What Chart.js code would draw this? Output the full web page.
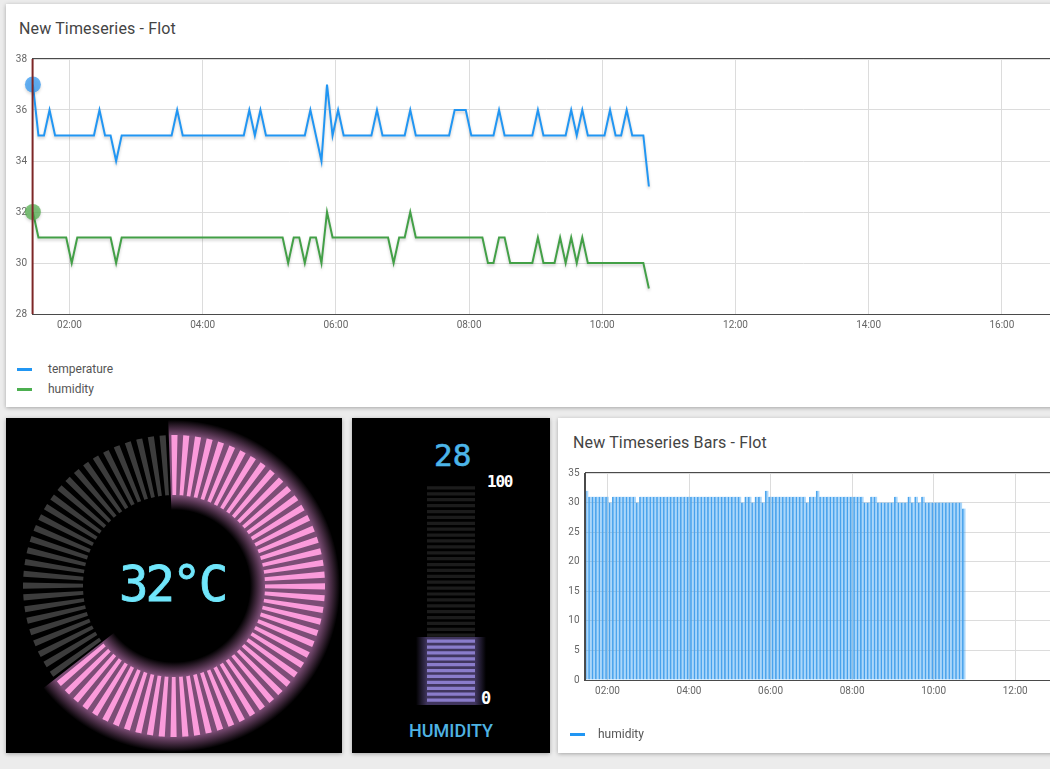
<!DOCTYPE html>
<html>
<head>
<meta charset="utf-8">
<script src="https://cdn.jsdelivr.net/npm/chart.js@4"></script>
<style>
html,body{margin:0;padding:0;width:1050px;height:769px;overflow:hidden;background:#ececec;font-family:Roboto,sans-serif}
.card{position:absolute;box-shadow:0 1px 4px rgba(0,0,0,.3)}
.white{background:#fff}
.black{background:#000}
canvas{position:absolute}
.t{position:absolute;white-space:nowrap;line-height:1}
.title{font-size:16px;color:#444;letter-spacing:.15px}
.leg{font-size:12px;color:#555}
.sw{position:absolute;width:15px;height:3px}
.lcd{font-family:"DejaVu Sans Mono",monospace;font-weight:400;transform-origin:0 0}
#glowbar{position:absolute;left:416px;top:637px;width:70px;height:68px;background:linear-gradient(90deg,rgba(70,58,110,0),#41365f 16%,#41365f 84%,rgba(70,58,110,0))}
</style>
</head>
<body>
<div class="card white" style="left:6px;top:4px;width:1060px;height:403px"></div>
<div class="card black" style="left:6px;top:418px;width:336px;height:335px"></div>
<div class="card black" style="left:352px;top:418px;width:198px;height:335px"></div>
<div class="card white" style="left:558px;top:418px;width:510px;height:335px"></div>

<div class="t title" style="left:19px;top:21px">New Timeseries - Flot</div>
<div class="t title" style="left:573px;top:435px">New Timeseries Bars - Flot</div>

<canvas id="lineChart" width="1070" height="300" style="left:0;top:40px"></canvas>
<div class="sw" style="left:17px;top:368px;background:#2196f3"></div>
<div class="t leg" style="left:48px;top:363px">temperature</div>
<div class="sw" style="left:17px;top:388px;background:#4caf50"></div>
<div class="t leg" style="left:48px;top:383px">humidity</div>

<canvas id="gaugeGlow" width="340" height="340" style="left:4px;top:416px"></canvas>
<canvas id="gaugeTicks" width="340" height="340" style="left:4px;top:416px"></canvas>
<div class="t lcd" style="left:119px;top:559px;font-size:50px;color:#70e6fb;letter-spacing:-3px;transform:scaleX(.98);-webkit-text-stroke:.8px #70e6fb">32°C</div>

<div id="glowbar"></div>
<canvas id="levelChart" width="48" height="218" style="left:427px;top:485px"></canvas>
<div class="t lcd" style="left:434px;top:440px;font-size:31px;color:#4cb5e8;-webkit-text-stroke:.6px #4cb5e8">28</div>
<div class="t lcd" style="left:487px;top:474px;font-size:16px;font-weight:700;color:#fff;letter-spacing:-1.2px">100</div>
<div class="t lcd" style="left:481px;top:690px;font-size:17px;font-weight:700;color:#fff">0</div>
<div class="t" style="left:409px;top:722px;font-size:18px;font-weight:500;color:#4fb3e3">HUMIDITY</div>

<canvas id="barChart" width="510" height="290" style="left:558px;top:462px"></canvas>
<div class="sw" style="left:570px;top:733px;background:#2196f3"></div>
<div class="t leg" style="left:598px;top:728px">humidity</div>

<script>
const minutes = [87,92,97,102,107,112,117,122,127,132,137,142,147,152,157,162,167,172,177,182,187,192,197,202,207,212,217,222,227,232,237,242,247,252,257,262,267,272,277,282,287,292,297,302,307,312,317,322,327,332,337,342,347,352,357,362,367,372,377,382,387,392,397,402,407,412,417,422,427,432,437,442,447,452,457,462,467,472,477,482,487,492,497,502,507,512,517,522,527,532,537,542,547,552,557,562,567,572,577,582,587,592,597,602,607,612,617,622,627,632,637,642];
const temperature = [37,35,35,36,35,35,35,35,35,35,35,35,36,35,35,34,35,35,35,35,35,35,35,35,35,35,36,35,35,35,35,35,35,35,35,35,35,35,35,36,35,36,35,35,35,35,35,35,35,35,36,35,34,37,35,36,35,35,35,35,35,35,36,35,35,35,35,35,36,35,35,35,35,35,35,35,36,36,36,35,35,35,35,35,36,35,35,35,35,35,35,36,35,35,35,35,35,36,35,36,35,35,35,35,36,35,35,36,35,35,35,33];
const humidity = [32,31,31,31,31,31,31,30,31,31,31,31,31,31,31,30,31,31,31,31,31,31,31,31,31,31,31,31,31,31,31,31,31,31,31,31,31,31,31,31,31,31,31,31,31,31,30,31,31,30,31,31,30,32,31,31,31,31,31,31,31,31,31,31,31,30,31,31,32,31,31,31,31,31,31,31,31,31,31,31,31,31,30,30,31,31,30,30,30,30,30,31,30,30,30,31,30,31,30,31,30,30,30,30,30,30,30,30,30,30,30,29];
const xTicks = [120,240,360,480,600,720,840,960];
const lineYTicks = [28,30,32,34,36,38];
const barYTicks = [0,5,10,15,20,25,30,35];
const gaugeTemperature = 32;
const gaugeLitFraction = 0.65;
const gaugeTickCount = 80;
const levelRowCount = 37;
const levelLitRows = 11;

const GRID = '#dcdcdc', FRAME = '#4a4a4a', TICK = '#666';
const tickFont = {family:'Roboto', size:10};
const fmt = v => { const h = Math.floor(v/60), m = v%60; return String(h).padStart(2,'0')+':'+String(m).padStart(2,'0'); };
const frame = {
  id:'frame',
  afterDraw(c){ const a=c.chartArea, x=c.ctx; x.save(); x.strokeStyle=FRAME; x.lineWidth=1;
    x.strokeRect(Math.round(a.left)+.5,Math.round(a.top)-.5,a.width,a.height+1); x.restore(); }
};
const lineShadow = {
  id:'lineShadow',
  beforeDatasetDraw(c){ const x=c.ctx; x.save(); x.shadowColor='rgba(0,0,0,.2)'; x.shadowOffsetY=2; x.shadowBlur=3; },
  afterDatasetDraw(c){ c.ctx.restore(); }
};
const crosshair = {
  id:'crosshair',
  afterDraw(c){ const a=c.chartArea, x=c.ctx, p=c.scales.x.getPixelForValue(minutes[0])-0.3; x.save(); x.strokeStyle='#7d2626'; x.lineWidth=2;
    x.beginPath(); x.moveTo(p,a.top); x.lineTo(p,a.bottom); x.stroke(); x.restore(); }
};
const xScale = (min,max) => ({
  type:'linear', min, max, offset:false,
  afterBuildTicks(s){ s.ticks = xTicks.filter(v=>v<=max-20).map(v=>({value:v})); },
  grid:{color:GRID, drawTicks:false, offset:false},
  border:{color:FRAME},
  ticks:{callback:fmt, font:tickFont, color:TICK, padding:5, maxRotation:0, autoSkip:false}
});
const yScale = (min,max,list,w) => ({
  min, max,
  afterBuildTicks(s){ s.ticks = list.map(v=>({value:v})); },
  afterFit(s){ s.width = w; },
  grid:{color:GRID, drawTicks:false},
  border:{color:FRAME},
  ticks:{font:tickFont, color:TICK, padding:5}
});
const base = {responsive:false, animation:false, events:[], plugins:{legend:{display:false},tooltip:{enabled:false}}};
const pts = arr => arr.map((v,i)=>({x:minutes[i],y:v}));
const radii = i => i===0 ? 8 : 0;

new Chart(document.getElementById('lineChart'),{
  type:'line',
  data:{datasets:[
    {label:'temperature',data:pts(temperature),borderColor:'#2196f3',borderWidth:2,tension:0,clip:false,
     pointRadius:c=>radii(c.dataIndex),pointBackgroundColor:'rgba(45,150,242,.72)',pointBorderWidth:0},
    {label:'humidity',data:pts(humidity),borderColor:'#43a047',borderWidth:2,tension:0,clip:false,
     pointRadius:c=>radii(c.dataIndex),pointBackgroundColor:'rgba(85,175,80,.75)',pointBorderWidth:0}
  ]},
  options:{...base,layout:{padding:{top:19,right:10,left:0,bottom:0}},
    scales:{x:{...xScale(86.2,1012.4),afterFit(s){s.height=26;}},y:yScale(28,38,lineYTicks,32)}},
  plugins:[lineShadow,frame,crosshair]
});

new Chart(document.getElementById('barChart'),{
  type:'bar',
  data:{datasets:[{label:'humidity',data:minutes.map((m,i)=>({x:m+2.5,y:humidity[i]})),
    backgroundColor:'rgba(33,150,243,.38)',borderColor:'#52a6ec',borderWidth:{left:1,top:0,right:0,bottom:0},borderSkipped:false,
    barPercentage:1,categoryPercentage:1}]},
  options:{...base,layout:{padding:{top:10,right:0,left:0,bottom:0}},
    scales:{x:{...xScale(86.2,797.7),afterFit(s){s.height=72;}},y:yScale(0,35,barYTicks,26.5)}},
  plugins:[frame]
});

/* radial gauge */
const gtx = document.getElementById('gaugeGlow').getContext('2d');
const grad = gtx.createRadialGradient(170,170,76,170,170,166);
grad.addColorStop(0,'rgba(125,78,118,0)');
grad.addColorStop(0.16,'#7c4d76');
grad.addColorStop(0.83,'#7c4d76');
grad.addColorStop(1,'rgba(125,78,118,0)');
new Chart(gtx,{type:'doughnut',
  data:{labels:['lit','rest'],datasets:[{data:[gaugeLitFraction,1-gaugeLitFraction],backgroundColor:[grad,'rgba(0,0,0,0)'],borderWidth:0}]},
  options:{...base,radius:166,cutout:(76/166*100)+'%',rotation:-2}});
const segValues=[], segColors=[];
for(let i=0;i<gaugeTickCount;i++){
  const lit = i/gaugeTickCount < gaugeLitFraction;
  segValues.push(0.52,0.48);
  segColors.push(lit?'#fb9bdb':'#3c3c3c', 'rgba(0,0,0,0)');
}
new Chart(document.getElementById('gaugeTicks'),{type:'doughnut',
  data:{datasets:[{data:segValues,backgroundColor:segColors,borderWidth:0}]},
  options:{...base,radius:151,cutout:(91/151*100)+'%',rotation:-1}});

/* linear level gauge */
const rowLabels=[], rowValues=[], rowColors=[];
for(let i=0;i<levelRowCount;i++){
  rowLabels.push(String(i)); rowValues.push(1);
  rowColors.push(i<levelLitRows?'#8a7ccb':'#1c1c1c');
}
new Chart(document.getElementById('levelChart'),{type:'bar',
  data:{labels:rowLabels,datasets:[{data:rowValues,backgroundColor:rowColors,barPercentage:.55,categoryPercentage:1}]},
  options:{...base,indexAxis:'y',scales:{x:{display:false,min:0,max:1},y:{display:false,reverse:true}}}});
</script>
</body>
</html>
